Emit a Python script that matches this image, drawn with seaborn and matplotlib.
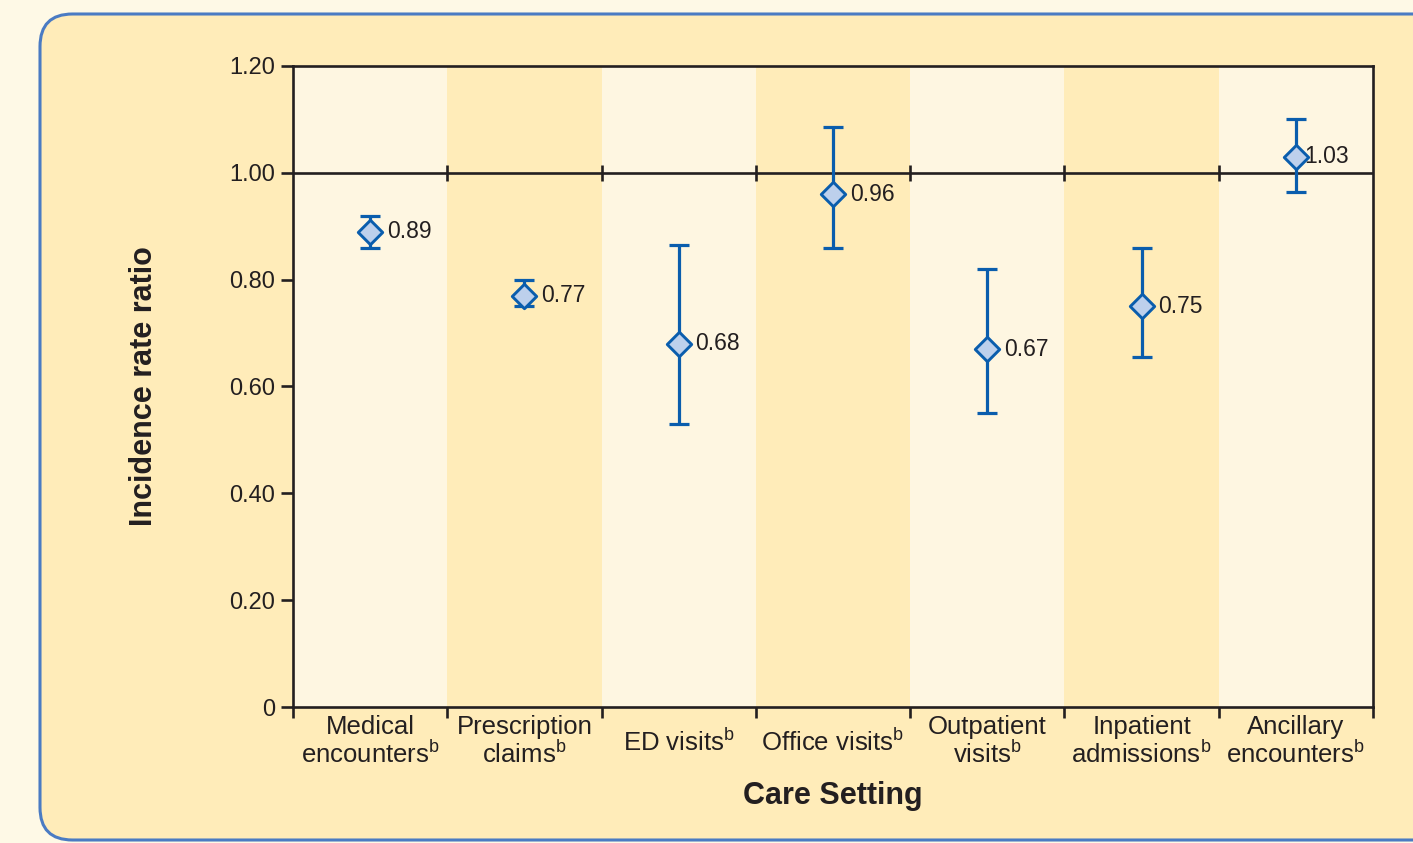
import numpy as np
import pandas as pd
import matplotlib.pyplot as plt
import seaborn as sns
from matplotlib.patches import FancyBboxPatch

# values
settings = ["Medical\nencounters", "Prescription\nclaims", "ED visits", "Office visits",
            "Outpatient\nvisits", "Inpatient\nadmissions", "Ancillary\nencounters"]
irr = [0.89, 0.77, 0.68, 0.96, 0.67, 0.75, 1.03]
ci_low = [0.86, 0.75, 0.53, 0.86, 0.55, 0.655, 0.965]
ci_high = [0.92, 0.80, 0.865, 1.085, 0.82, 0.86, 1.10]
y_ticks = [0, 0.2, 0.4, 0.6, 0.8, 1.0, 1.2]
y_ticklabels = ["0", "0.20", "0.40", "0.60", "0.80", "1.00", "1.20"]

df = pd.DataFrame({"setting": settings, "irr": irr, "lo": ci_low, "hi": ci_high})

sns.set_style("ticks")
plt.rcParams["font.family"] = ["Liberation Sans", "DejaVu Sans"]
plt.rcParams["mathtext.fontset"] = "custom"
plt.rcParams["mathtext.rm"] = "Liberation Sans"

outer_bg = "#FEF9E6"
box_bg = "#FFECB9"
light = "#FEF6E1"
ink = "#231F20"
blue = "#0A5DAD"

fig = plt.figure(figsize=(14.13, 8.43), dpi=100, facecolor=outer_bg)
box = FancyBboxPatch((40 / 1413, 3 / 843), 1.0, 1 - 17 / 843,
                     boxstyle="round,pad=0,rounding_size=0.023",
                     mutation_aspect=1413 / 843, transform=fig.transFigure,
                     facecolor=box_bg, edgecolor="#4A7BC3", linewidth=2.2, zorder=-5)
fig.patches.append(box)

ax = fig.add_axes([293 / 1413, 1 - 707 / 843, 1080 / 1413, 641 / 843])
ax.set_zorder(5)
ax.set_facecolor(light)

n = len(settings)
x = np.arange(n)
for i in x:
    if i % 2 == 1:
        ax.axvspan(i - 0.5, i + 0.5, color=box_bg, zorder=0, lw=0)

# reference line at 1.00 with little ticks at column borders
ax.axhline(1.0, color=ink, lw=1.9, zorder=1)
ax.plot(x[:-1] + 0.5, [1.0] * (n - 1), ls="none", marker="|", ms=11, mew=1.9, color=ink, zorder=1)

ax.errorbar(x, df["irr"], yerr=[df["irr"] - df["lo"], df["hi"] - df["irr"]],
            fmt="none", ecolor=blue, elinewidth=2.3, capsize=7, capthick=2.3, zorder=2)
sns.scatterplot(x=x, y=df["irr"], marker="D", s=155, color="#BDD0EC",
                edgecolor=blue, linewidth=2.1, zorder=3, ax=ax)

offsets = [12, 12, 12, 12, 12, 12, 6]
for i, v in enumerate(irr):
    ax.annotate(f"{v:.2f}", (x[i], v), xytext=(offsets[i], 0), textcoords="offset points",
                va="center", ha="left", fontsize=16.5, color=ink, zorder=4)

ax.set_xlim(-0.5, n - 0.5)
ax.set_ylim(0, 1.2)
ax.set_yticks(y_ticks)
ax.set_yticklabels(y_ticklabels, fontsize=17, color=ink)
ax.tick_params(axis="y", length=9, width=1.9, color=ink, pad=4)

ax.set_xticks(np.arange(n + 1) - 0.5)
ax.set_xticklabels([])
ax.tick_params(axis="x", which="major", length=8, width=1.9, color=ink)
ax.set_xticks(x, minor=True)
labels = [s + r"$^{\mathregular{b}}$" for s in settings]
ax.set_xticklabels(labels, minor=True, fontsize=18.5, color=ink, va="center", linespacing=1.05)
ax.tick_params(axis="x", which="minor", length=0, pad=25)

for s in ax.spines.values():
    s.set_visible(True)
    s.set_linewidth(1.9)
    s.set_color(ink)

ax.set_ylabel("Incidence rate ratio", fontsize=22, fontweight="bold", color=ink, labelpad=50)
ax.set_xlabel("Care Setting", fontsize=22, fontweight="bold", color=ink, labelpad=9)

fig.savefig("out.png", dpi=100, facecolor=outer_bg)
